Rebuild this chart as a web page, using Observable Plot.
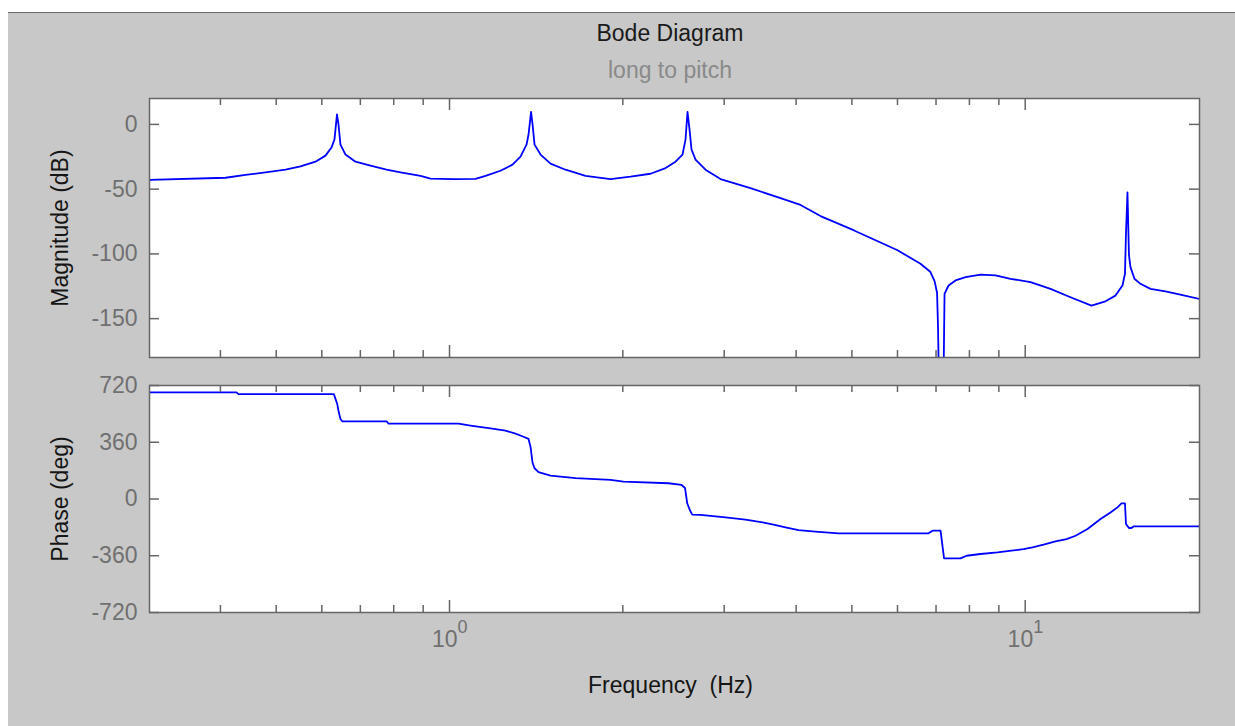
<!DOCTYPE html>
<html>
<head>
<meta charset="utf-8">
<script src="https://cdn.jsdelivr.net/npm/d3@7"></script>
<script src="https://cdn.jsdelivr.net/npm/@observablehq/plot@0.6"></script>
<style>
  body { margin: 0; background: #ffffff; }
  #page { position: relative; width: 1235px; height: 726px; overflow: hidden;
          font-family: "Liberation Sans", Arial, Helvetica, sans-serif; }
  #bg { position: absolute; left: 8px; top: 12px; right: 0; bottom: 0;
        background: #c8c8c8; border-top: 1px solid #6a6a6a; }
  .ttl { position: absolute; left: 470px; width: 400px; text-align: center;
         font-size: 23px; line-height: 23px; white-space: nowrap; }
  #title { top: 22px; color: #1a1a1a; }
  #subtitle { top: 59px; color: #8a8a8a; }
  #page svg { position: absolute; left: 0; top: 0; }
</style>
</head>
<body>
<div id="page">
  <div id="bg"></div>
  <div class="ttl" id="title"></div>
  <div class="ttl" id="subtitle"></div>
</div>
<script>
// ---- data ----
const magFreq = [0.3012, 0.4083, 0.4421, 0.4791, 0.5189, 0.551, 0.585, 0.6089, 0.6237, 0.6312, 0.6376, 0.6414, 0.6465, 0.6596, 0.6865, 0.729, 0.7772, 0.822, 0.8906, 0.9269, 1.0161, 1.1096, 1.1549, 1.2262, 1.2866, 1.3285, 1.3607, 1.3718, 1.3856, 1.3939, 1.4051, 1.4392, 1.4979, 1.5904, 1.723, 1.904, 2.0626, 2.2346, 2.3725, 2.4693, 2.5394, 2.57, 2.5906, 2.6115, 2.6325, 2.675, 2.7842, 2.9561, 3.3331, 3.7581, 4.0712, 4.4103, 5.0328, 5.4958, 6.0015, 6.5786, 6.8469, 6.9589, 7.0289, 7.0567, 7.0991, 7.1418, 7.1992, 7.2425, 7.3593, 7.5682, 7.877, 8.3639, 8.8806, 9.4301, 10.214, 11.065, 11.988, 13.035, 13.785, 14.348, 14.756, 14.904, 14.964, 15.054, 15.144, 15.235, 15.481, 15.856, 16.504, 17.522, 18.6, 20.08];
const magDb = [-42.8, -41.2, -38.9, -37.1, -35, -32.4, -28.8, -24.1, -17.9, -11.7, 7.8, 0, -15.6, -23.3, -28.8, -31.9, -35, -37, -39.7, -41.8, -42.2, -42, -39.7, -35.8, -31.1, -24.9, -15.6, -7.8, 9.6, 0, -15.6, -23.3, -30.3, -35, -39.7, -42.2, -40.4, -38.1, -33.7, -28.8, -23.3, -11.7, 9.6, -3.9, -19.4, -27.2, -35, -42.2, -49.2, -57, -62.2, -70.8, -81.7, -89.5, -97.2, -107.6, -114, -121, -130, -157, -230, -300, -230, -130.9, -124.4, -120.5, -117.9, -116, -116.6, -119.2, -121.8, -127, -133.5, -140, -136.6, -132.2, -124.4, -115.3, -84.2, -52.6, -101, -110.2, -119.2, -123.1, -127, -129, -131.4, -134.8];

const phaseFreq = [0.3012, 0.4266, 0.43, 0.6295, 0.6381, 0.6422, 0.6465, 0.6509, 0.7772, 0.7835, 1.0367, 1.0876, 1.1782, 1.2508, 1.3021, 1.3445, 1.3718, 1.3828, 1.3939, 1.4051, 1.4277, 1.4979, 1.6553, 1.904, 2.0057, 2.4012, 2.5294, 2.5649, 2.5876, 2.6146, 2.6399, 2.7291, 3.0159, 3.2672, 3.4976, 3.6541, 3.8341, 4.0389, 4.323, 4.7394, 6.7935, 6.9031, 7.1276, 7.1848, 7.2281, 7.721, 7.9087, 8.3639, 8.952, 9.4678, 9.9323, 10.297, 10.76, 11.289, 11.798, 12.231, 12.83, 13.517, 14.066, 14.463, 14.697, 14.904, 14.964, 15.144, 15.296, 15.419, 20.08];
const phaseDeg = [677, 677, 665, 665, 604, 550, 508, 493, 493, 478, 478, 466, 448, 434, 415, 395, 381, 330, 230, 195, 170, 148, 133, 121, 110, 100, 89, 70, -27, -70, -99, -101, -116, -131, -148, -163, -180, -197, -207, -218, -218, -201, -201, -300, -377, -377, -360, -349, -339, -328, -318, -307, -290, -269, -254, -233, -190, -127, -85, -53, -28, -28, -159, -184, -184, -174, -174];

const xDomain = [0.3012, 20.08];
const magDomain = [-180, 20];
const phaseDomain = [-720, 720];
const minorTicksX = [0.4, 0.5, 0.6, 0.7, 0.8, 0.9, 2, 3, 4, 5, 6, 7, 8, 9];
const majorTicksX = [1, 10];
const magTicks = [0, -50, -100, -150];
const phaseTicks = [720, 360, 0, -360, -720];

const title = "Bode Diagram";
const subtitle = "long to pitch";
const magLabel = "Magnitude (dB)";
const phaseLabel = "Phase (deg)";
const xLabel = "Frequency\u00a0 (Hz)";

// ---- layout / style ----
const W = 1235, H = 726;
const ML = 149, MR = 36;
const FW = W - ML - MR;
const font = '"Liberation Sans", Arial, Helvetica, sans-serif';
const frameColor = "#666666";
const labelColor = "#707070";
const textColor = "#151515";
const lineColor = "#0000ff";

const magData = magFreq.map((f, i) => ({f, v: magDb[i]}));
const phaseData = phaseFreq.map((f, i) => ({f, v: phaseDeg[i]}));

function tickMarks(fh, yTicks) {
  return [
    Plot.ruleX(minorTicksX, {insetBottom: fh - 7, stroke: frameColor, strokeWidth: 1.5}),
    Plot.ruleX(minorTicksX, {insetTop: fh - 7, stroke: frameColor, strokeWidth: 1.5}),
    Plot.ruleX(majorTicksX, {insetBottom: fh - 12, stroke: frameColor, strokeWidth: 1.5}),
    Plot.ruleX(majorTicksX, {insetTop: fh - 12, stroke: frameColor, strokeWidth: 1.5}),
    Plot.ruleY(yTicks, {insetRight: FW - 10, stroke: frameColor, strokeWidth: 1.5}),
    Plot.ruleY(yTicks, {insetLeft: FW - 10, stroke: frameColor, strokeWidth: 1.5})
  ];
}

const style = {fontFamily: font, fontSize: "23px", background: "transparent", overflow: "visible"};

// Magnitude panel
const mTop = 98, mBottom = H - 357, mFH = H - mTop - mBottom;
const magPlot = Plot.plot({
  width: W, height: H,
  marginLeft: ML, marginRight: MR, marginTop: mTop, marginBottom: mBottom,
  style,
  x: {type: "log", domain: xDomain, axis: null},
  y: {domain: magDomain, axis: null},
  marks: [
    Plot.frame({fill: "white"}),
    Plot.line(magData, {x: "f", y: "v", stroke: lineColor, strokeWidth: 1.8, clip: true}),
    ...tickMarks(mFH, magTicks),
    Plot.frame({stroke: frameColor, strokeWidth: 1.5}),
    Plot.text(magTicks, {y: d => d, text: d => String(d), frameAnchor: "left", dx: -12, textAnchor: "end", fill: labelColor}),
    Plot.text([magLabel], {text: d => d, frameAnchor: "left", textAnchor: "middle", rotate: -90, dx: -89, fill: textColor})
  ]
});

// Phase panel
const pTop = 385, pBottom = H - 612, pFH = H - pTop - pBottom;
const phasePlot = Plot.plot({
  width: W, height: H,
  marginLeft: ML, marginRight: MR, marginTop: pTop, marginBottom: pBottom,
  style,
  x: {type: "log", domain: xDomain, axis: null},
  y: {domain: phaseDomain, axis: null},
  marks: [
    Plot.frame({fill: "white"}),
    Plot.line(phaseData, {x: "f", y: "v", stroke: lineColor, strokeWidth: 1.8, clip: true}),
    ...tickMarks(pFH, phaseTicks),
    Plot.frame({stroke: frameColor, strokeWidth: 1.5}),
    Plot.text(phaseTicks, {y: d => d, text: d => String(d), frameAnchor: "left", dx: -12, textAnchor: "end", fill: labelColor}),
    Plot.text(majorTicksX, {x: d => d, text: () => "10", frameAnchor: "bottom", dy: 34, dx: 8, textAnchor: "end", fill: labelColor}),
    Plot.text(majorTicksX, {x: d => d, text: d => String(Math.round(Math.log10(d))), frameAnchor: "bottom", dy: 20, dx: 8, textAnchor: "start", fontSize: 18, fill: labelColor}),
    Plot.text([phaseLabel], {text: d => d, frameAnchor: "left", textAnchor: "middle", rotate: -90, dx: -89, fill: textColor}),
    Plot.text([xLabel], {text: d => d, frameAnchor: "bottom", textAnchor: "middle", dy: 80, dx: -4, fill: textColor})
  ]
});

const page = document.getElementById("page");
document.getElementById("title").textContent = title;
document.getElementById("subtitle").textContent = subtitle;
page.appendChild(magPlot);
page.appendChild(phasePlot);
</script>
</body>
</html>
